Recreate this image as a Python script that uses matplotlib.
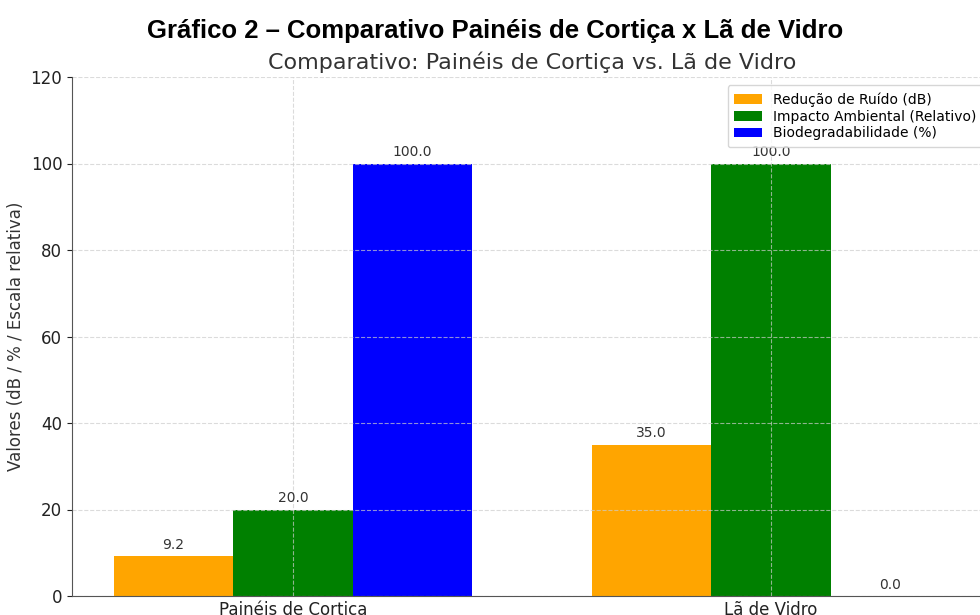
import numpy as np
import matplotlib.pyplot as plt

categorias = ['Painéis de Cortica', 'Lã de Vidro']
reducao_ruido = [9.2, 35.0]
impacto_ambiental = [20.0, 100.0]
biodegradabilidade = [100.0, 0.0]

series = [
    ('Redução de Ruído (dB)', reducao_ruido, 'orange'),
    ('Impacto Ambiental (Relativo)', impacto_ambiental, 'green'),
    ('Biodegradabilidade (%)', biodegradabilidade, 'blue'),
]

fig = plt.figure(figsize=(9.8, 6.15), dpi=100)
# eixo vai um pouco alem da borda direita (imagem original recortada)
ax = fig.add_axes([72/980, 1 - 596/615, 920/980, 519/615])

x = np.arange(len(categorias))
w = 0.25
for i, (nome, vals, cor) in enumerate(series):
    bars = ax.bar(x + (i - 1) * w, vals, w, label=nome, color=cor)
    ax.bar_label(bars, fmt='%.1f', padding=3, fontsize=10, color='#333333')

ax.set_xticks(x)
ax.set_xticklabels(categorias, fontsize=12, color='#222222')
ax.set_ylim(0, 120)
ax.tick_params(axis='y', labelsize=12, colors='#222222')
ax.tick_params(axis='x', length=0)
ax.set_ylabel('Valores (dB / % / Escala relativa)', fontsize=12, color='#333333')
ax.set_title('Comparativo: Painéis de Cortiça vs. Lã de Vidro', fontsize=16, color='#333333')
ax.grid(True, linestyle='--', color='#cccccc', alpha=0.7)
ax.spines['top'].set_visible(False)
ax.spines['right'].set_visible(False)
ax.spines['left'].set_color('#555555')
ax.spines['bottom'].set_color('#555555')
ax.legend(loc='upper right', fontsize=10, labelspacing=0.2, borderaxespad=0.6, borderpad=0.5)

fig.text(0.505, 0.95, 'Gráfico 2 – Comparativo Painéis de Cortiça x Lã de Vidro',
         ha='center', va='center', fontsize=18.5, fontweight='bold', family='Liberation Sans')

fig.savefig('out.png', dpi=100)
